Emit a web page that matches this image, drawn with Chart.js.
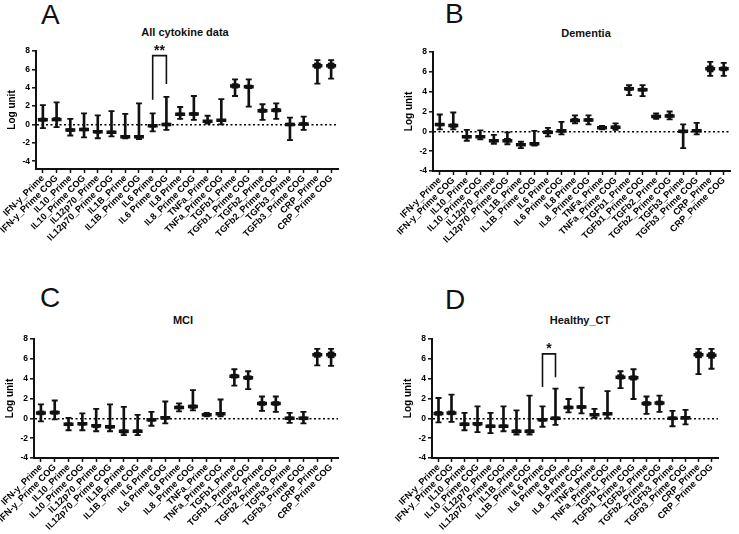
<!DOCTYPE html>
<html>
<head>
<meta charset="utf-8">
<script src="https://cdn.jsdelivr.net/npm/chart.js@4.4.0/dist/chart.umd.min.js"></script>
<style>
  body { margin: 0; background: #fff; width: 739px; height: 534px; position: relative; overflow: hidden; font-family: "Liberation Sans", Arial, sans-serif; color: #111; }
  canvas { position: absolute; }
  .letter { position: absolute; font-size: 28px; line-height: 28px; }
  .ttl { position: absolute; font-size: 11px; font-weight: bold; transform: translate(-50%, -50%); white-space: nowrap; }
</style>
</head>
<body>
<div class="letter" style="left:41px;top:1px">A</div>
<div class="letter" style="left:445px;top:0px">B</div>
<div class="letter" style="left:40px;top:284px">C</div>
<div class="letter" style="left:445px;top:286px">D</div>
<div class="ttl" style="left:185px;top:32px">All cytokine data</div>
<div class="ttl" style="left:586px;top:33px">Dementia</div>
<div class="ttl" style="left:183px;top:320px">MCI</div>
<div class="ttl" style="left:580px;top:320px">Healthy_CT</div>
<canvas id="pA" style="left:0;top:40px" width="369" height="230"></canvas>
<canvas id="pB" style="left:370px;top:40px" width="369" height="230"></canvas>
<canvas id="pC" style="left:0;top:325px" width="369" height="209"></canvas>
<canvas id="pD" style="left:370px;top:325px" width="369" height="209"></canvas>
<script>
var labels = ['IFN-y_Prime', 'IFN-y_Prime COG', 'IL10_Prime', 'IL10_Prime COG', 'IL12p70_Prime', 'IL12p70_Prime COG',
  'IL1B_Prime', 'IL1B_Prime COG', 'IL6 Prime', 'IL6 Prime COG', 'IL8 Prime', 'IL8_Prime COG', 'TNFa_Prime', 'TNFa_Prime COG',
  'TGFb1_Prime', 'TGFb1_Prime COG', 'TGFb2_Prime', 'TGFb2_Prime COG', 'TGFb3_Prime', 'TGFb3_Prime COG', 'CRP_Prime', 'CRP_Prime COG'];
var yTicks = [-4, -2, 0, 2, 4, 6, 8];

// A - all cytokine data
var aMax = [2.1, 2.4, 0.6, 1.2, 1.0, 1.45, 1.15, 2.3, 1.2, 3.0, 1.9, 3.1, 0.95, 2.75, 4.9, 4.9, 2.2, 2.3, 0.75, 0.85, 7.0, 7.0];
var aQ3  = [0.7, 0.75, -0.45, -0.4, -0.65, -0.7, -1.2, -1.2, 0.0, 0.15, 1.25, 1.3, 0.45, 0.55, 4.45, 4.3, 1.7, 1.75, 0.15, 0.2, 6.7, 6.7];
var aMed = [0.5, 0.55, -0.6, -0.55, -0.8, -0.85, -1.35, -1.35, -0.15, 0.0, 1.1, 1.15, 0.35, 0.45, 4.2, 4.1, 1.5, 1.55, 0.0, 0.05, 6.4, 6.4];
var aQ1  = [0.35, 0.4, -0.75, -0.7, -0.95, -1.0, -1.5, -1.5, -0.3, -0.15, 0.95, 1.0, 0.25, 0.35, 3.95, 3.9, 1.3, 1.35, -0.15, -0.1, 6.1, 6.1];
var aMin = [-0.4, -0.3, -1.2, -1.4, -1.5, -1.3, -1.5, -1.6, -0.75, -0.6, 0.6, 0.5, 0.1, 0.0, 3.1, 1.95, 0.5, 0.6, -1.7, -0.6, 4.45, 5.0];

// B - dementia
var bMax = [1.7, 1.9, 0.15, 0.1, -0.35, -0.1, -1.05, 0.05, 0.35, 0.95, 1.6, 1.6, 0.55, 0.8, 4.65, 4.65, 1.8, 2.0, 0.7, 0.85, 7.0, 6.9];
var bQ3  = [0.8, 0.75, -0.4, -0.45, -0.8, -0.7, -1.25, -1.15, 0.1, 0.2, 1.3, 1.3, 0.45, 0.55, 4.45, 4.35, 1.65, 1.75, 0.1, 0.2, 6.6, 6.5];
var bMed = [0.7, 0.6, -0.55, -0.55, -0.95, -0.95, -1.35, -1.25, -0.1, 0.05, 1.1, 1.15, 0.35, 0.4, 4.3, 4.2, 1.5, 1.55, 0.0, 0.05, 6.3, 6.3];
var bQ1  = [0.55, 0.4, -0.7, -0.65, -1.1, -1.1, -1.45, -1.4, -0.25, -0.1, 0.95, 1.0, 0.3, 0.3, 4.1, 4.05, 1.4, 1.4, -0.15, -0.05, 6.0, 6.1];
var bMin = [0.2, 0.2, -0.95, -0.8, -1.25, -1.3, -1.7, -1.45, -0.5, -0.3, 0.8, 0.7, 0.2, 0.15, 3.65, 3.55, 1.25, 1.2, -1.7, -0.3, 5.6, 5.6];

// C - MCI
var cMax = [1.4, 1.8, 0.05, 0.5, 0.95, 1.4, 1.15, 0.35, 0.65, 1.7, 1.5, 2.85, 0.55, 1.9, 4.95, 4.75, 2.2, 2.2, 0.55, 0.65, 7.0, 7.0];
var cQ3  = [0.75, 0.75, -0.45, -0.4, -0.6, -0.7, -1.15, -1.15, 0.0, 0.2, 1.25, 1.35, 0.45, 0.55, 4.45, 4.3, 1.7, 1.7, 0.15, 0.15, 6.65, 6.7];
var cMed = [0.55, 0.6, -0.6, -0.55, -0.75, -0.85, -1.3, -1.3, -0.15, 0.05, 1.1, 1.2, 0.35, 0.45, 4.25, 4.1, 1.5, 1.5, 0.0, 0.0, 6.4, 6.4];
var cQ1  = [0.35, 0.4, -0.75, -0.7, -0.95, -1.0, -1.5, -1.45, -0.3, -0.1, 0.95, 1.0, 0.3, 0.3, 4.05, 3.9, 1.3, 1.3, -0.15, -0.15, 6.15, 6.1];
var cMin = [-0.3, -0.1, -1.2, -1.2, -1.3, -1.3, -1.7, -1.7, -0.75, -0.5, 0.7, 0.8, 0.2, 0.2, 3.3, 2.95, 0.75, 0.65, -0.45, -0.5, 5.35, 5.3];

// D - healthy CT
var dMax = [2.05, 2.4, 0.55, 1.2, 0.55, 1.2, 0.8, 2.3, 1.2, 3.0, 1.95, 3.1, 0.95, 2.75, 4.75, 4.95, 2.2, 2.3, 0.75, 0.85, 7.0, 7.0];
var dQ3  = [0.7, 0.75, -0.45, -0.4, -0.65, -0.65, -1.15, -1.15, 0.0, 0.15, 1.25, 1.3, 0.5, 0.55, 4.4, 4.3, 1.7, 1.75, 0.15, 0.2, 6.7, 6.65];
var dMed = [0.5, 0.55, -0.6, -0.55, -0.8, -0.8, -1.3, -1.3, -0.15, 0.0, 1.1, 1.15, 0.35, 0.45, 4.15, 4.1, 1.5, 1.55, 0.0, 0.05, 6.4, 6.35];
var dQ1  = [0.3, 0.35, -0.75, -0.75, -0.95, -0.95, -1.5, -1.5, -0.3, -0.15, 0.95, 1.0, 0.25, 0.35, 3.95, 3.85, 1.3, 1.35, -0.15, -0.1, 6.1, 6.05];
var dMin = [-0.4, -0.35, -1.2, -1.4, -1.5, -1.3, -1.65, -1.65, -0.85, -0.65, 0.6, 0.5, 0.05, 0.0, 3.05, 1.95, 0.45, 0.65, -0.8, -0.6, 4.45, 5.0];

// significance brackets: [left leg bottom, top, right leg bottom]
var aBracket = [2.7, 7.5, 4.4];
var dBracket = [3.15, 6.5, 4.15];

var FONT = '"Liberation Sans", Arial, sans-serif';

function zip(lo, hi) {
  var out = [];
  for (var i = 0; i < lo.length; i++) out.push([lo[i], hi[i]]);
  return out;
}

function starPlugin(txt) {
  return {
    id: 'stars',
    afterDraw: function(chart) {
      var xs = chart.scales.x, ys = chart.scales.y;
      var top = chart.data.datasets[0].data[1].y;
      var x = (xs.getPixelForValue(8) + xs.getPixelForValue(9)) / 2;
      var y = ys.getPixelForValue(top) - 1;
      var ctx = chart.ctx;
      ctx.save();
      ctx.fillStyle = '#111';
      ctx.font = 'bold 14px ' + FONT;
      ctx.textAlign = 'center';
      ctx.textBaseline = 'alphabetic';
      ctx.fillText(txt, x, y);
      ctx.restore();
    }
  };
}

function makePanel(id, mx, q3, med, q1, mn, opt) {
  var datasets = [];
  var plugins = [];
  if (opt.bracket) {
    var br = opt.bracket;
    datasets.push({
      type: 'line', data: [{x: labels[8], y: br[0]}, {x: labels[8], y: br[1]}, {x: labels[9], y: br[1]}, {x: labels[9], y: br[2]}],
      borderColor: '#111', borderWidth: 1.6, pointRadius: 0, fill: false, tension: 0
    });
    plugins.push(starPlugin(opt.stars));
  }
  datasets.push({ type: 'bar', data: zip(mn, mx), backgroundColor: '#111', barThickness: 2, grouped: false });
  datasets.push({ type: 'bar', data: zip(q1, q3), backgroundColor: '#111', barThickness: 6, grouped: false });
  datasets.push({ type: 'line', data: med, showLine: false, pointStyle: 'line', pointRadius: 5, borderWidth: 3.5, borderColor: '#111' });
  datasets.push({ type: 'line', data: mx, showLine: false, pointStyle: 'line', pointRadius: 3, borderWidth: 1.8, borderColor: '#111' });
  datasets.push({ type: 'line', data: mn, showLine: false, pointStyle: 'line', pointRadius: 3, borderWidth: 1.8, borderColor: '#111' });

  new Chart(document.getElementById(id), {
    type: 'bar',
    data: { labels: labels, datasets: datasets },
    plugins: plugins,
    options: {
      responsive: false,
      animation: false,
      events: [],
      layout: { padding: opt.pad },
      plugins: { legend: { display: false }, tooltip: { enabled: false } },
      scales: {
        x: {
          offset: true,
          grid: { display: true, drawOnChartArea: false, offset: false, tickLength: 4, tickColor: '#111', tickWidth: 1.5 },
          border: { color: '#111', width: 2 },
          ticks: { color: '#000', autoSkip: false, minRotation: 45, maxRotation: 45, padding: 0, font: { family: FONT, size: 9.2, weight: 'bold' } },
          afterFit: function(s) { s.height = opt.xh; }
        },
        y: {
          min: opt.yMin, max: 8,
          afterBuildTicks: function(s) { s.ticks = yTicks.map(function(v) { return {value: v}; }); },
          grid: {
            color: function(c) { return c.tick && c.tick.value === 0 ? '#000' : 'rgba(0,0,0,0)'; },
            lineWidth: 1.6, tickLength: 4, tickColor: '#111', tickWidth: 1.5
          },
          border: { color: '#111', width: 2, dash: [2, 2.5] },
          ticks: { color: '#000', padding: 2, font: { family: FONT, size: 8.5, weight: 'bold' } },
          title: { display: true, text: 'Log unit', color: '#000', padding: { top: 0, bottom: 2 }, font: { family: FONT, size: 10, weight: 'bold' } },
          afterFit: function(s) { s.width = 30; }
        }
      }
    }
  });
}

makePanel('pA', aMax, aQ3, aMed, aQ1, aMin, { yMin: -4.85, pad: { left: 6, top: 11, right: 31, bottom: 11 }, xh: 90, bracket: aBracket, stars: '**' });
makePanel('pB', bMax, bQ3, bMed, bQ1, bMin, { yMin: -4, pad: { left: 33, top: 12, right: 3, bottom: 9 }, xh: 90 });
makePanel('pC', cMax, cQ3, cMed, cQ1, cMin, { yMin: -4, pad: { left: 4, top: 14, right: 31, bottom: 1 }, xh: 75 });
makePanel('pD', dMax, dQ3, dMed, dQ1, dMin, { yMin: -4, pad: { left: 32, top: 14, right: 21, bottom: 1 }, xh: 75, bracket: dBracket, stars: '*' });
</script>
</body>
</html>
